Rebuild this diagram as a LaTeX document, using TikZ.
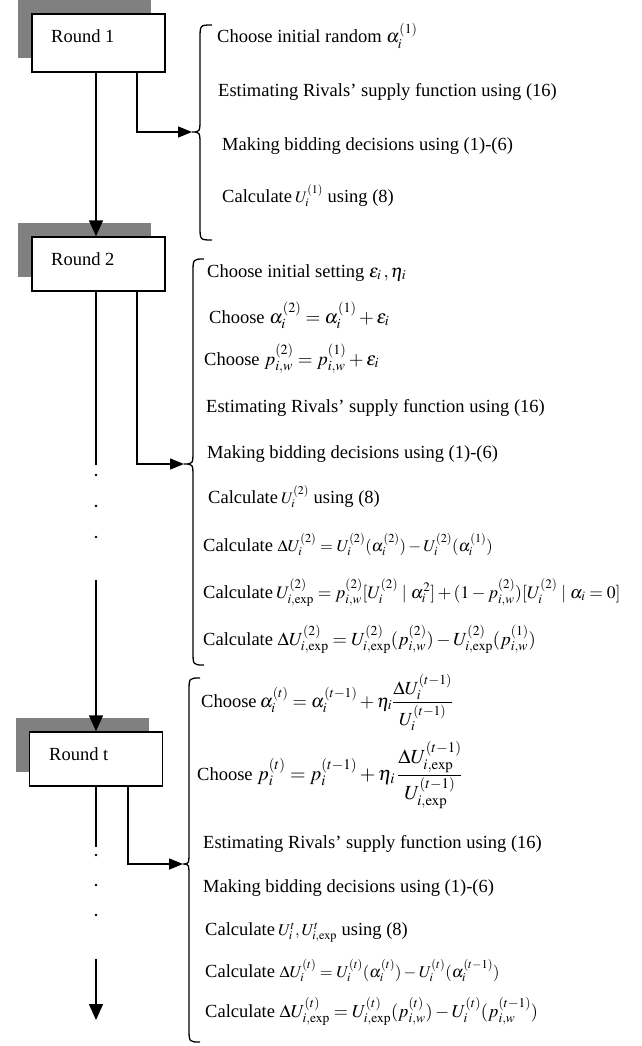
\documentclass[tikz,border=0pt]{standalone}
\usepackage{amsmath}
\usepackage{mathptmx}
\usepackage{fontspec}
\setmainfont{Liberation Serif}
\usetikzlibrary{arrows.meta,shadows,calc}
\definecolor{shadowgray}{HTML}{808080}
\newcommand\eqsize[2]{{\fontsize{#1}{#1}\selectfont #2}}
\begin{document}
\begin{tikzpicture}[x=1pt,y=-1pt,
  roundbox/.style={draw, line width=1.4pt, fill=white, minimum width=133pt, inner sep=0pt,
    drop shadow={shadow xshift=-14pt, shadow yshift=14pt, opacity=1, fill=shadowgray}},
  lbl/.style={anchor=base west, inner sep=0pt, font=\fontsize{18.5}{22}\selectfont},
  item/.style={anchor=base west, inner sep=0pt, font=\fontsize{18.5}{22}\selectfont},
  ln/.style={line width=1.4pt},
  arr/.style={line width=1.4pt, -{Triangle[length=16pt,width=14pt]}},
  harr/.style={line width=1.4pt, -{Triangle[length=14pt,width=11pt]}},
  brc/.style={line width=1.3pt},
  dotn/.style={circle, fill=black, inner sep=0pt, minimum size=2.6pt}]
\useasboundingbox (0,0) rectangle (641,1046);

% boxes
\node[roundbox, minimum height=58pt] (b1) at (98.5,43) {};
\node[lbl] (l1) at (51,43) {Round 1};
\node[roundbox, minimum height=54pt] (b2) at (98.5,264) {};
\node[lbl] (l2) at (51,265) {Round 2};
\node[roundbox, minimum height=54pt] (b3) at (96,759) {};
\node[lbl] (l3) at (49,760) {Round t};

% main line coordinates
\coordinate (m) at (96,0);
\coordinate (g2a) at (96,465);
\coordinate (g2b) at (96,580);
\coordinate (g3a) at (96,847);
\coordinate (g3b) at (96,959);
\coordinate (endpt) at (96,1020);
\node[dotn] (d1) at (96,475) {};
\node[dotn] (d2) at (96,506) {};
\node[dotn] (d3) at (96,537) {};
\node[dotn] (d4) at (96,855) {};
\node[dotn] (d5) at (96,885) {};
\node[dotn] (d6) at (96,915) {};

\draw[arr] (b1.south -| m) -- (b2.north -| m);
\draw[ln] (b2.south -| m) -- (g2a);
\draw[arr] (g2b) -- (b3.north -| m);
\draw[ln] (b3.south -| m) -- (g3a);
\draw[arr] (g3b) -- (endpt);

% braces
\coordinate (t1) at (192,132);
\coordinate (t2) at (184,464);
\coordinate (t3) at (183,864);
\draw[brc] (212,25) .. controls (200,25) .. (200,39) -- (200,118) .. controls (200,132) .. (t1)
  .. controls (200,132) .. (200,146) -- (200,226) .. controls (200,240) .. (212,240);
\draw[brc] (204,259) .. controls (193,259) .. (193,273) -- (193,450) .. controls (193,464) .. (t2)
  .. controls (193,464) .. (193,478) -- (193,651) .. controls (193,665) .. (204,665);
\draw[brc] (200,678) .. controls (189,678) .. (189,692) -- (189,850) .. controls (189,864) .. (t3)
  .. controls (189,864) .. (189,878) -- (189,1028) .. controls (189,1042) .. (200,1042);

% side connectors
\coordinate (s1) at (137,132);
\coordinate (s2) at (137,464);
\coordinate (s3) at (128,864);
\draw[harr] (b1.south -| s1) |- (t1);
\draw[harr] (b2.south -| s2) |- (t2);
\draw[harr] (b3.south -| s3) |- (t3);

% Round 1 items
\node[item] (a1) at (217,43) {Choose initial random $\alpha_i^{(1)}$};
\node[item] (a2) at (218,97) {Estimating Rivals’ supply function using (16)};
\node[item] (a3) at (222,150) {Making bidding decisions using (1)-(6)};
\node[item] (a4) at (222,202) {Calculate\,\eqsize{16}{$U_i^{(1)}$} using (8)};

% Round 2 items
\node[item] (c1) at (207,277) {Choose initial setting $\varepsilon_i\,,\eta_i$};
\node[item] (c2) at (209,323) {Choose \eqsize{19}{$\alpha_i^{(2)} = \alpha_i^{(1)} + \varepsilon_i$}};
\node[item] (c3) at (204,365) {Choose \eqsize{19}{$p_{i,w}^{(2)} = p_{i,w}^{(1)} + \varepsilon_i$}};
\node[item] (c4) at (206,412) {Estimating Rivals’ supply function using (16)};
\node[item] (c5) at (207,458) {Making bidding decisions using (1)-(6)};
\node[item] (c6) at (208,503) {Calculate\,\eqsize{16}{$U_i^{(2)}$} using (8)};
\node[item] (c7) at (203,551) {Calculate \eqsize{16.5}{$\Delta U_i^{(2)} = U_i^{(2)}(\alpha_i^{(2)}) - U_i^{(2)}(\alpha_i^{(1)})$}};
\node[item] (c8) at (203,598) {Calculate\,\eqsize{17.6}{$U_{i,\exp}^{(2)} = p_{i,w}^{(2)}[U_i^{(2)} \mid \alpha_i^2] + (1-p_{i,w}^{(2)})[U_i^{(2)} \mid \alpha_i = 0]$}};
\node[item] (c9) at (203,645) {Calculate \eqsize{18.5}{$\Delta U_{i,\exp}^{(2)} = U_{i,\exp}^{(2)}(p_{i,w}^{(2)}) - U_{i,\exp}^{(2)}(p_{i,w}^{(1)})$}};

% Round t items
\node[item] (e1) at (201,707) {Choose\,\eqsize{18.5}{$\alpha_i^{(t)} = \alpha_i^{(t-1)} + \eta_i \dfrac{\Delta U_i^{(t-1)}}{U_i^{(t-1)}}$}};
\node[item] (e2) at (197,780) {Choose \eqsize{20}{$p_i^{(t)} = p_i^{(t-1)} + \eta_i\, \dfrac{\Delta U_{i,\exp}^{(t-1)}}{U_{i,\exp}^{(t-1)}}$}};
\node[item] (e3) at (203,848) {Estimating Rivals’ supply function using (16)};
\node[item] (e4) at (203,892) {Making bidding decisions using (1)-(6)};
\node[item] (e5) at (205,935) {Calculate\,\eqsize{16.5}{$U_i^t, U_{i,\exp}^t$} using (8)};
\node[item] (e6) at (205,977) {Calculate \eqsize{16.5}{$\Delta U_i^{(t)} = U_i^{(t)}(\alpha_i^{(t)}) - U_i^{(t)}(\alpha_i^{(t-1)})$}};
\node[item] (e7) at (205,1017) {Calculate \eqsize{18.2}{$\Delta U_{i,\exp}^{(t)} = U_{i,\exp}^{(t)}(p_{i,w}^{(t)}) - U_i^{(t)}(p_{i,w}^{(t-1)})$}};
\end{tikzpicture}
\end{document}
